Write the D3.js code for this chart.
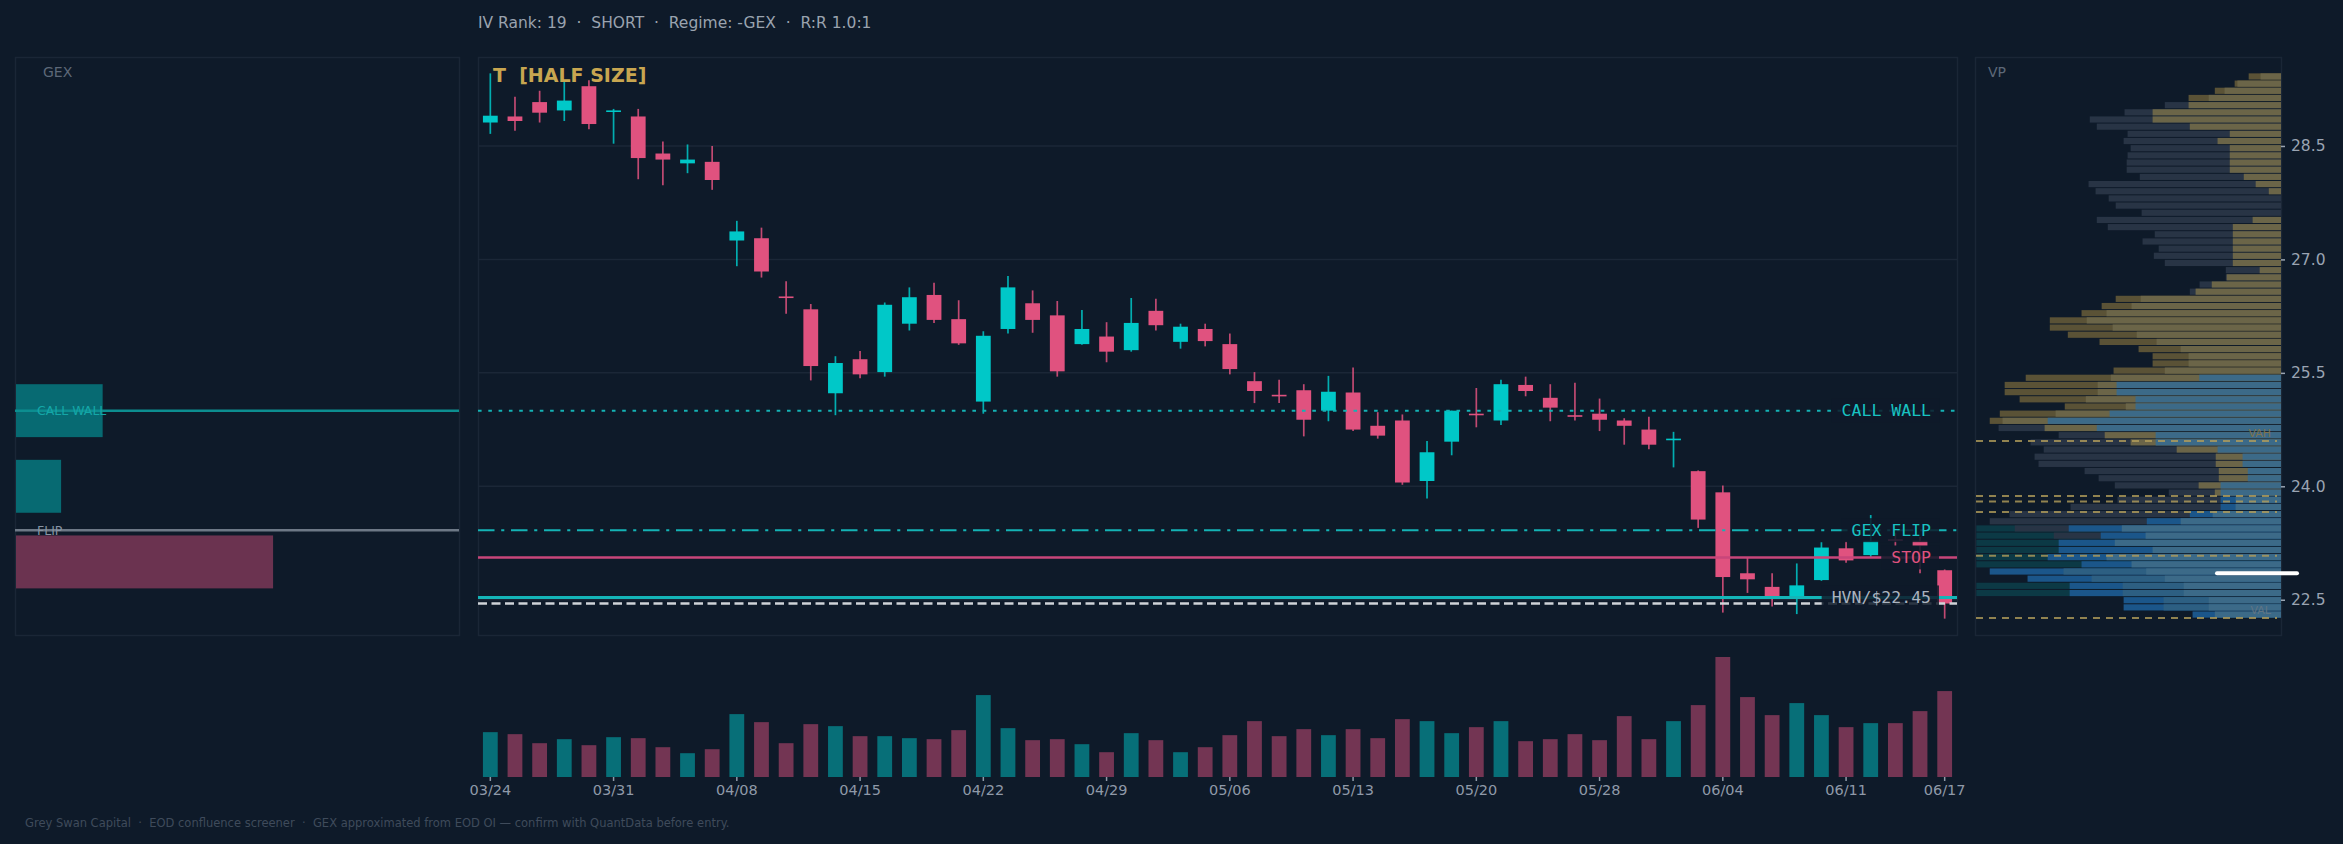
<!DOCTYPE html>
<html>
<head>
<meta charset="utf-8">
<script src="https://cdn.jsdelivr.net/npm/d3@7"></script>
<style>
  html, body { margin: 0; padding: 0; background: #0e1a29; }
  svg { display: block; }
  text { font-family: "DejaVu Sans", sans-serif; }
  .mono { font-family: "DejaVu Sans Mono", monospace; }
</style>
</head>
<body>
<script>
// ---- daily bars ----
const dates = ["03/24","03/25","03/26","03/27","03/28","03/31","04/01","04/02","04/03","04/07",
  "04/08","04/09","04/10","04/11","04/14","04/15","04/16","04/17","04/18","04/21",
  "04/22","04/23","04/24","04/25","04/28","04/29","04/30","05/01","05/02","05/05",
  "05/06","05/07","05/08","05/09","05/12","05/13","05/14","05/15","05/16","05/19",
  "05/20","05/21","05/22","05/23","05/27","05/28","05/29","05/30","06/02","06/03",
  "06/04","06/05","06/06","06/09","06/10","06/11","06/12","06/13","06/16","06/17"];
const opens = [28.81,28.89,29.08,28.97,29.29,28.95,28.89,28.40,28.27,28.29,
  27.25,27.28,26.51,26.34,25.23,25.68,25.51,26.15,26.53,26.21,
  25.12,26.08,26.42,26.26,25.88,25.98,25.80,26.32,25.91,26.08,
  25.88,25.39,25.21,25.27,25.00,25.24,24.80,24.87,24.07,24.59,
  24.96,24.87,25.34,25.17,24.94,24.96,24.87,24.75,24.61,24.20,
  23.92,22.85,22.67,22.53,22.76,23.18,23.09,23.30,23.28,22.89];
const highs = [29.46,29.15,29.23,29.35,29.37,28.99,28.99,28.56,28.52,28.50,
  27.51,27.42,26.71,26.41,25.72,25.79,26.43,26.63,26.69,26.46,
  26.05,26.78,26.59,26.45,26.33,26.17,26.49,26.48,26.15,26.15,
  26.02,25.51,25.41,25.35,25.46,25.57,24.98,24.95,24.60,25.00,
  25.30,25.41,25.45,25.35,25.37,25.16,24.90,24.92,24.72,24.21,
  24.01,23.06,22.85,22.98,23.26,23.27,23.62,23.38,23.33,22.90];
const lows = [28.66,28.70,28.81,28.83,28.72,28.53,28.06,27.98,28.14,27.92,
  26.91,26.76,26.28,25.40,24.94,25.43,25.45,26.06,26.16,25.87,
  24.96,26.02,26.03,25.45,25.87,25.64,25.78,26.06,25.82,25.85,
  25.48,25.10,25.10,24.66,24.86,24.73,24.63,24.02,23.84,24.41,
  24.78,24.81,25.19,24.86,24.87,24.73,24.55,24.49,24.25,23.45,
  22.33,22.59,22.41,22.31,22.75,22.99,23.06,23.21,22.85,22.25];
const closes = [28.90,28.83,28.94,29.10,28.79,28.97,28.34,28.32,28.32,28.05,
  27.37,26.84,26.49,25.59,25.63,25.48,26.40,26.50,26.20,25.89,
  25.99,26.63,26.20,25.52,26.08,25.78,26.16,26.13,26.11,25.92,
  25.55,25.26,25.19,24.88,25.25,24.75,24.67,24.05,24.45,25.00,
  24.94,25.35,25.26,25.04,24.92,24.88,24.80,24.55,24.63,23.56,
  22.80,22.77,22.54,22.69,23.19,23.02,23.28,23.28,23.21,22.45];
// volume, millions of shares
const volumes = [17.9,17.1,13.5,15.1,12.7,15.9,15.5,11.9,9.5,11.1,
  25.1,21.9,13.5,21.1,20.3,16.3,16.3,15.5,15.1,18.7,
  32.7,19.5,14.7,15.1,13.1,9.9,17.5,14.7,9.9,11.9,
  16.7,22.3,16.3,19.1,16.7,19.1,15.5,23.1,22.3,17.5,
  19.9,22.3,14.3,15.1,17.1,14.7,24.3,15.1,22.3,28.7,
  47.9,31.9,24.7,29.5,24.7,19.9,21.5,21.5,26.3,34.3];
const tickIdx = [0,5,10,15,20,25,30,35,40,45,50,55,59];

// ---- levels on the price chart ----
const levelNames = ["CALL WALL","GEX FLIP","STOP","HVN/$22.45"];
const levelPrices = [25.00, 23.42, 23.06, 22.53];
const levelColors = ["#14b3b5","#14b3b5","#c8467a","#14b5b8"];
const labelColors = ["#18c2c2","#18c2c2","#e0527f","#aab3bf"];

// ---- GEX by strike ($M) ----
const gexStrikes = [25, 24, 23];
const gexValues = [12.1, 6.3, -35.9];

// ---- volume profile, % of widest row, top row first ----
const vpGray = [0,0,0,0,38.1,51.3,62.7,60.4,50.3,51.6,49.3,50.3,50.6,50.6,46.3,63.1,60.8,56.5,54.2,45.7,
  60.4,56.8,41.4,45.4,40.1,41.7,38.1,18.1,18.1,26.7,29.9,0,0,0,0,0,0,0,0,0,
  0,0,0,0,0,0,0,0,0,92.6,72.9,82.1,77.8,80.8,79.5,64.4,59.8,54.5,36.8,53.6,
  69.0,89.0,95.5,87.3,74.5,0,0,0,0,0,0,0,0,0,0,0];
const vpGoldDark = [10.6,15.2,21.7,30.3,0,0,0,0,0,0,0,0,0,0,0,0,0,0,0,0,
  0,0,0,0,0,0,0,0,0,0,0,54.2,58.8,65.4,75.8,75.8,69.9,59.5,46.7,42.1,
  42.1,54.9,83.7,90.6,90.6,85.7,70.9,92.2,95.5,0,0,0,0,0,0,0,0,0,0,0,
  0,0,0,0,0,0,0,0,0,0,0,0,0,0,0,0];
const vpGold = [6.7,14.3,18.5,23.7,30.3,42.1,42.1,29.9,16.8,20.8,16.8,16.8,16.8,16.8,12.2,8.3,4.0,0,0,0,
  9.3,15.8,15.8,15.8,15.8,15.8,15.8,7.0,17.8,22.7,28.0,46.0,49.0,57.2,63.7,55.2,47.3,40.8,32.9,30.3,
  30.3,38.1,55.8,60.1,60.1,64.0,50.9,73.9,91.3,77.5,57.8,49.3,34.2,21.4,21.4,20.4,20.4,27.0,21.7,0,
  0,0,0,0,0,0,0,0,0,0,0,0,0,0,0,0];
const vpBlue = [0,0,0,0,0,0,0,0,0,0,0,0,0,0,0,0,0,0,0,0,
  0,0,0,0,0,0,0,0,0,0,0,0,0,0,0,0,0,0,0,0,
  0,0,26.8,53.9,53.9,47.7,47.7,56.2,76.5,60.4,41.1,41.1,20.8,12.6,12.6,10.9,10.9,19.8,19.8,14.9,
  14.9,22.4,32.9,52.2,44.4,54.5,42.1,57.2,49.0,44.2,38.1,31.9,31.9,23.7,23.7,21.7];
const vpDeep = [0,0,0,0,0,0,0,0,0,0,0,0,0,0,0,0,0,0,0,0,
  0,0,0,0,0,0,0,0,0,0,0,0,0,0,0,0,0,0,0,0,
  0,0,0,0,0,0,0,0,0,0,0,0,0,0,0,0,0,0,0,19.8,
  19.8,29.9,44.0,69.6,59.1,72.9,72.9,76.5,65.4,95.5,83.1,69.3,69.3,51.6,51.6,29.0];
const vpMid = [0,0,0,0,0,0,0,0,0,0,0,0,0,0,0,0,0,0,0,0,
  0,0,0,0,0,0,0,0,0,0,0,0,0,0,0,0,0,0,0,0,
  0,0,0,0,0,0,0,0,0,0,0,0,0,0,0,0,0,0,0,0,
  0,0,0,0,0,0,0,0,0,71.3,62.1,51.9,51.9,38.5,38.5,0];
const vpTeal = [0,0,0,0,0,0,0,0,0,0,0,0,0,0,0,0,0,0,0,0,
  0,0,0,0,0,0,0,0,0,0,0,0,0,0,0,0,0,0,0,0,
  0,0,0,0,0,0,0,0,0,0,0,0,0,0,0,0,0,0,0,0,
  0,0,0,99.9,99.9,99.9,99.9,99.9,99.9,0,0,99.9,99.9,0,0,0];
const vpLevels = [24.60, 23.87, 23.80, 23.66, 23.08, 22.26];
const vahPrice = 24.60, valPrice = 22.26;
const markPrice = 22.85;

const titleText = "IV Rank: 19  \u00b7  SHORT  \u00b7  Regime: -GEX  \u00b7  R:R 1.0:1";
const tagText = "T  [HALF SIZE]";
const footText = "Grey Swan Capital  \u00b7  EOD confluence screener  \u00b7  GEX approximated from EOD OI \u2014 confirm with QuantData before entry.";

// ---- layout ----
const W = 2343, H = 844;
const panelTop = 57, panelBottom = 635;
const gexL = 15, gexR = 459, mainL = 478, mainR = 1957, vpL = 1975, vpR = 2281;
const volBase = 777, volTop = 657;
const bg = "#0e1a29", up = "#00c8c8", down = "#e0527f";

const svg = d3.select("body").append("svg").attr("width", W).attr("height", H);
svg.append("rect").attr("width", W).attr("height", H).attr("fill", bg);

const lo = d3.min(lows), hi = d3.max(highs), pad = (hi - lo) * 0.03;
const y = d3.scaleLinear().domain([lo - pad, hi + pad]).range([panelBottom, panelTop]);
const x = d3.scaleBand().domain(d3.range(dates.length)).range([mainL, mainR]).padding(0);
const bw = x.bandwidth() * 0.6;
const cx = i => x(i) + x.bandwidth() / 2;
const perDollar = y(20) - y(21);

// panel frames
[[gexL, gexR], [mainL, mainR], [vpL, vpR]].forEach(p => {
  svg.append("rect").attr("x", p[0] + 0.5).attr("y", panelTop + 0.5)
    .attr("width", p[1] - p[0]).attr("height", panelBottom - panelTop)
    .attr("fill", "none").attr("stroke", "#1a2636").attr("stroke-width", 1.5);
});

svg.append("text").attr("x", mainL).attr("y", 28).attr("fill", "#9aa3af")
  .style("font-size", "15.5px").style("white-space", "pre").text(titleText);

// ---- GEX panel ----
const gx = d3.scaleLinear().domain([0, 62]).range([gexL, gexR]);
svg.append("g").selectAll("rect").data(gexStrikes).join("rect")
  .attr("x", gexL + 1)
  .attr("y", d => y(d) - perDollar * 0.35)
  .attr("width", (d, i) => gx(Math.abs(gexValues[i])) - gexL)
  .attr("height", perDollar * 0.7)
  .attr("fill", (d, i) => gexValues[i] >= 0 ? "#076a72" : "#6b3350");
svg.append("line").attr("x1", gexL).attr("x2", gexR).attr("y1", y(levelPrices[0])).attr("y2", y(levelPrices[0]))
  .attr("stroke", "#0c8e90").attr("stroke-width", 2.5);
svg.append("line").attr("x1", gexL).attr("x2", gexR).attr("y1", y(levelPrices[1])).attr("y2", y(levelPrices[1]))
  .attr("stroke", "#6d7886").attr("stroke-width", 2.5);
svg.append("text").attr("x", 37).attr("y", y(levelPrices[0])).attr("dy", "0.35em")
  .attr("fill", "#14a7a8").style("font-size", "12.5px").text("CALL WALL");
svg.append("text").attr("x", 37).attr("y", y(levelPrices[1])).attr("dy", "0.35em")
  .attr("fill", "#8793a3").style("font-size", "12.5px").text("FLIP");
svg.append("text").attr("x", 43).attr("y", 77).attr("fill", "#5d6878").style("font-size", "14px").text("GEX");

// ---- main price panel ----
svg.append("g").selectAll("line").data([22.5, 24, 25.5, 27, 28.5]).join("line")
  .attr("x1", mainL).attr("x2", mainR).attr("y1", d => y(d)).attr("y2", d => y(d))
  .attr("stroke", "#1b2737").attr("stroke-width", 1.5);

const candles = svg.append("g").selectAll("g").data(dates).join("g");
candles.append("line")
  .attr("x1", (d, i) => cx(i)).attr("x2", (d, i) => cx(i))
  .attr("y1", (d, i) => y(highs[i])).attr("y2", (d, i) => y(lows[i]))
  .attr("stroke", (d, i) => closes[i] >= opens[i] ? up : down)
  .attr("stroke-opacity", 0.85).attr("stroke-width", 1.7);
candles.append("rect")
  .attr("x", (d, i) => cx(i) - bw / 2).attr("width", bw)
  .attr("y", (d, i) => y(Math.max(opens[i], closes[i])))
  .attr("height", (d, i) => Math.max(1.6, Math.abs(y(opens[i]) - y(closes[i]))))
  .attr("fill", (d, i) => closes[i] >= opens[i] ? up : down);

// level lines, drawn over the candles
const dashes = ["3.6,6.7", "16.5,6.7,3.1,6.7", null, null];
const widths = [2, 2, 2.5, 3];
levelPrices.forEach((p, i) => {
  svg.append("line").attr("x1", mainL).attr("x2", mainR).attr("y1", y(p)).attr("y2", y(p))
    .attr("stroke", levelColors[i]).attr("stroke-width", widths[i])
    .attr("stroke-dasharray", dashes[i]);
});
const last = closes[closes.length - 1];
svg.append("line").attr("x1", mainL).attr("x2", mainR).attr("y1", y(last)).attr("y2", y(last))
  .attr("stroke", "#cfd3d8").attr("stroke-width", 2.5).attr("stroke-dasharray", "9,4.5");

// right side labels with a box behind them
levelNames.forEach((n, i) => {
  const g = svg.append("g");
  const t = g.append("text").attr("class", "mono").attr("x", 1931).attr("y", y(levelPrices[i]))
    .attr("dy", "0.35em").attr("text-anchor", "end").attr("fill", labelColors[i])
    .style("font-size", "16.5px").text(n);
  const b = t.node().getBBox();
  g.insert("rect", "text").attr("x", b.x - 10).attr("y", y(levelPrices[i]) - 12)
    .attr("width", b.width + 18).attr("height", 24).attr("fill", bg).attr("fill-opacity", 0.85);
});

svg.append("text").attr("x", 493).attr("y", 82).attr("fill", "#c8a650")
  .style("font-size", "19px").style("font-weight", "bold").style("white-space", "pre").text(tagText);

// ---- volume ----
const vy = d3.scaleLinear().domain([0, d3.max(volumes)]).range([volBase, volTop]);
svg.append("g").selectAll("rect").data(volumes).join("rect")
  .attr("x", (d, i) => cx(i) - bw / 2).attr("width", bw)
  .attr("y", d => vy(d)).attr("height", d => volBase - vy(d))
  .attr("fill", (d, i) => closes[i] >= opens[i] ? "#076f78" : "#733553");

svg.append("g").attr("transform", `translate(0,${volBase})`)
  .call(d3.axisBottom(x).tickValues(tickIdx).tickFormat(i => dates[i]).tickSize(4).tickPadding(4))
  .call(g => g.select(".domain").remove())
  .call(g => g.selectAll("line").attr("stroke", "#8f99a8").attr("stroke-width", 1.5))
  .call(g => g.selectAll("text").attr("fill", "#8f99a8")
    .style("font-size", "14.5px").style("font-family", "'DejaVu Sans', sans-serif"));

// ---- volume profile ----
const vx = d3.scaleLinear().domain([0, 100]).range([0, vpR - vpL - 1]);
const nRows = vpGray.length;
const step = (hi - lo) / nRows;
const vpLayers = [
  [vpGray, "#283445"], [vpGoldDark, "#5a5236"], [vpGold, "#6b6548"], [vpTeal, "#0c3945"],
  [vpDeep, "#1b568a"], [vpMid, "#2d5f82"], [vpBlue, "#3c6a88"]
];
const vpg = svg.append("g");
for (let r = 0; r < nRows; r++) {
  const segs = vpLayers.map(l => ({ w: l[0][r], c: l[1] })).filter(s => s.w > 0)
    .sort((a, b) => b.w - a.w);
  const yTop = y(hi - r * step), yBot = y(hi - (r + 1) * step);
  vpg.append("g").selectAll("rect").data(segs).join("rect")
    .attr("x", s => vpR - vx(s.w)).attr("width", s => vx(s.w))
    .attr("y", yTop).attr("height", Math.max(1, yBot - yTop - 1))
    .attr("fill", s => s.c);
}
svg.append("g").selectAll("line").data(vpLevels).join("line")
  .attr("x1", vpL + 1).attr("x2", vpR - 4).attr("y1", d => y(d)).attr("y2", d => y(d))
  .attr("stroke", "#b39d5a").attr("stroke-opacity", 0.8).attr("stroke-width", 2)
  .attr("stroke-dasharray", "7,6");
svg.append("text").attr("x", vpR - 10).attr("y", y(vahPrice) - 4).attr("text-anchor", "end")
  .attr("fill", "#7d7350").style("font-size", "11px").text("VAH");
svg.append("text").attr("x", vpR - 10).attr("y", y(valPrice) - 4).attr("text-anchor", "end")
  .attr("fill", "#5f7585").style("font-size", "11px").text("VAL");
svg.append("line").attr("x1", vpR - 64).attr("x2", vpR + 16).attr("y1", y(markPrice)).attr("y2", y(markPrice))
  .attr("stroke", "#ffffff").attr("stroke-width", 4).attr("stroke-linecap", "round");
svg.append("text").attr("x", vpL + 13).attr("y", 77).attr("fill", "#5d6878").style("font-size", "14px").text("VP");

svg.append("g").attr("transform", `translate(${vpR},0)`)
  .call(d3.axisRight(y).tickValues([22.5, 24, 25.5, 27, 28.5]).tickFormat(d3.format(".1f")).tickSize(4).tickPadding(6))
  .call(g => g.select(".domain").remove())
  .call(g => g.selectAll("line").attr("stroke", "#9aa4b2").attr("stroke-width", 1.5))
  .call(g => g.selectAll("text").attr("fill", "#9aa4b2")
    .style("font-size", "15.5px").style("font-family", "'DejaVu Sans', sans-serif"));

svg.append("text").attr("x", 25).attr("y", 827).attr("fill", "#3f4b5b")
  .style("font-size", "11.5px").style("white-space", "pre").text(footText);
</script>
</body>
</html>
